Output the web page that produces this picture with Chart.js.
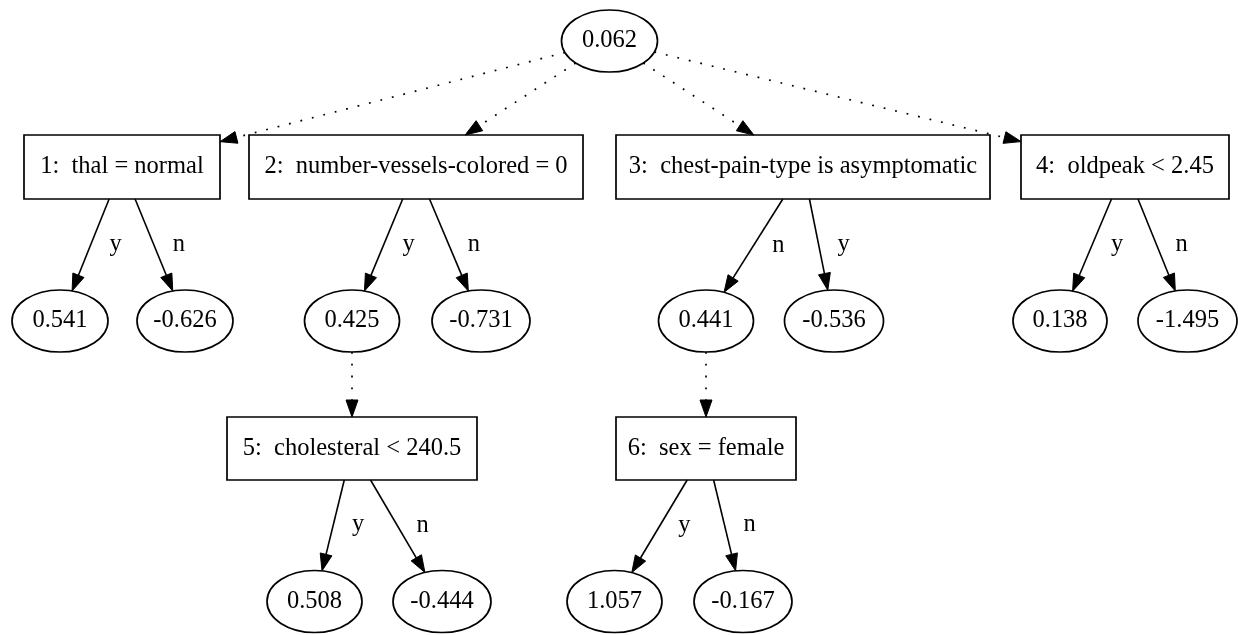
<!DOCTYPE html>
<html><head><meta charset="utf-8">
<script src="https://cdn.jsdelivr.net/npm/chart.js@4.4.1/dist/chart.umd.min.js"></script>
<style>html,body{margin:0;padding:0;background:#fff}#wrap{width:1238px;height:635px;position:relative}</style>
</head><body><div id="wrap"><canvas id="c"></canvas></div>
<script>
// ---------- data ----------
const nodeLabels = [
  "0.062",
  "1:  thal = normal",
  "2:  number-vessels-colored = 0",
  "3:  chest-pain-type is asymptomatic",
  "4:  oldpeak < 2.45",
  "0.541", "-0.626", "0.425", "-0.731", "0.441", "-0.536", "0.138", "-1.495",
  "5:  cholesteral < 240.5",
  "6:  sex = female",
  "0.508", "-0.444", "1.057", "-0.167"
];
const nodeKinds = ["value","split","split","split","split",
  "value","value","value","value","value","value","value","value",
  "split","split","value","value","value","value"];
const edgeFrom   = [0, 0, 0, 0, 1, 1, 2, 2, 3, 3, 4, 4, 7, 9, 13, 13, 14, 14];
const edgeTo     = [1, 2, 3, 4, 5, 6, 7, 8, 9, 10, 11, 12, 13, 14, 15, 16, 17, 18];
const edgeLabels = ["", "", "", "", "y", "n", "y", "n", "n", "y", "y", "n", "", "", "y", "n", "y", "n"];
const edgeDotted = [true, true, true, true, false, false, false, false, false, false, false, false, true, true, false, false, false, false];

// ---------- layout (diagram coordinates) ----------
const nodeX = [609.5, 122, 416, 803, 1125, 60, 185, 352, 481, 706, 834, 1060, 1187.5, 352, 706, 314.5, 442, 614.5, 743];
const nodeY = [41, 167, 167, 167, 167, 321, 321, 321, 321, 321, 321, 321, 321, 448.5, 448.5, 601.5, 601.5, 601.5, 601.5];
const nodeW = [96, 196, 334, 374, 208, 96, 96, 95, 98, 95, 99, 94, 99, 250, 180, 95, 98, 95, 98];
const nodeH = [62, 64, 64, 64, 64, 62, 62, 62, 62, 62, 62, 62, 62, 63, 63, 62, 62, 62, 62];

const FONT = '24.5px "Liberation Serif", "Times New Roman", serif';

const treePlugin = {
  id: 'tree',
  afterDatasetsDraw(chart) {
    const ctx = chart.ctx, xs = chart.scales.x, ys = chart.scales.y;
    const X = v => xs.getPixelForValue(v), Y = v => ys.getPixelForValue(v);
    const sx = Math.abs(X(1) - X(0)), sy = Math.abs(Y(1) - Y(0));
    const nodes = nodeLabels.map((t, i) => ({
      x: X(nodeX[i]), y: Y(nodeY[i]), hw: nodeW[i] * sx / 2, hh: nodeH[i] * sy / 2, kind: nodeKinds[i], text: t
    }));
    function boundary(n, dx, dy) {
      let s;
      if (n.kind === 'value') s = 1 / Math.sqrt((dx / n.hw) ** 2 + (dy / n.hh) ** 2);
      else s = Math.min(dx === 0 ? Infinity : n.hw / Math.abs(dx), dy === 0 ? Infinity : n.hh / Math.abs(dy));
      return { x: n.x + dx * s, y: n.y + dy * s };
    }
    ctx.save();
    ctx.strokeStyle = '#000'; ctx.fillStyle = '#000';
    // edges
    edgeFrom.forEach((f, k) => {
      const a = nodes[f], b = nodes[edgeTo[k]];
      let dx = b.x - a.x, dy = b.y - a.y;
      const len = Math.hypot(dx, dy); dx /= len; dy /= len;
      const p0 = boundary(a, dx, dy);
      const p1 = boundary(b, -dx, -dy);
      const AL = 17, AW = 6;
      const bx = p1.x - dx * AL, by = p1.y - dy * AL;
      ctx.beginPath();
      ctx.lineWidth = edgeDotted[k] ? 1.7 : 1.6;
      ctx.setLineDash(edgeDotted[k] ? [1.8, 10] : []);
      ctx.moveTo(p0.x, p0.y); ctx.lineTo(bx, by); ctx.stroke();
      ctx.setLineDash([]);
      ctx.beginPath();
      ctx.moveTo(p1.x, p1.y);
      ctx.lineTo(bx - dy * AW, by + dx * AW);
      ctx.lineTo(bx + dy * AW, by - dx * AW);
      ctx.closePath(); ctx.lineWidth = 1; ctx.fill(); ctx.stroke();
      if (edgeLabels[k]) {
        ctx.font = FONT; ctx.textAlign = 'center'; ctx.textBaseline = 'alphabetic';
        const mx = (p0.x + p1.x) / 2, my = (p0.y + p1.y) / 2;
        ctx.fillText(edgeLabels[k], mx + 25, my + 6);
      }
    });
    // nodes
    ctx.lineWidth = 1.7;
    nodes.forEach(n => {
      ctx.beginPath();
      if (n.kind === 'value') ctx.ellipse(n.x, n.y, n.hw, n.hh, 0, 0, Math.PI * 2);
      else ctx.rect(n.x - n.hw, n.y - n.hh, n.hw * 2, n.hh * 2);
      ctx.stroke();
      ctx.font = FONT; ctx.textAlign = 'center'; ctx.textBaseline = 'alphabetic';
      ctx.fillText(n.text, n.x, n.y + 6);
    });
    ctx.restore();
  }
};

new Chart(document.getElementById('c'), {
  type: 'scatter',
  data: { datasets: [{ data: nodeX.map((x, i) => ({ x, y: nodeY[i] })), pointRadius: 0, pointHoverRadius: 0 }] },
  options: {
    responsive: true, maintainAspectRatio: false, animation: false,
    layout: { padding: 0 },
    plugins: { legend: { display: false }, tooltip: { enabled: false } },
    events: [],
    scales: {
      x: { type: 'linear', min: 0, max: 1238, display: false },
      y: { type: 'linear', min: 0, max: 635, reverse: true, display: false }
    }
  },
  plugins: [treePlugin]
});
</script></body></html>
